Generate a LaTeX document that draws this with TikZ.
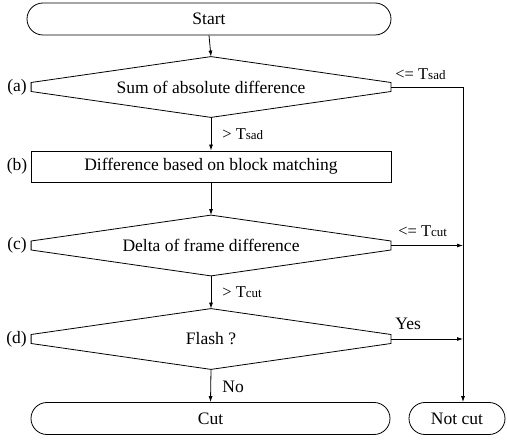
\documentclass[tikz,border=0pt]{standalone}
\usepackage{fontspec}
\setmainfont{Liberation Serif}
\usetikzlibrary{arrows.meta,calc}
\newcommand\thr[2]{{\fontsize{16.5}{18}\selectfont #1T}{\fontsize{13}{15}\selectfont #2}}
\tikzset{
  every node/.style={font=\fontsize{17.5}{20}\selectfont, inner sep=0pt},
  term/.style={draw, rounded corners=16pt, minimum height=32pt},
  proc/.style={draw, minimum height=31pt},
  hexa/.style={minimum height=60pt},
  conn/.style={line width=0.8pt, -{Latex[length=6pt,width=4pt]}},
  lab/.style={anchor=base west},
}
\begin{document}
\begin{tikzpicture}[x=1pt,y=-1pt, line width=0.8pt]
\useasboundingbox (0,0) rectangle (507,441);
% nodes
\node[term, minimum width=364pt] (start) at (209,19) {Start};
\node[hexa, minimum width=359pt] (a) at (211,87) {Sum of absolute difference};
\node[proc, minimum width=360pt] (b) at (211,166.5) {Difference based on block matching};
\node[hexa, minimum width=359pt] (c) at (211,245.5) {Delta of frame difference};
\node[hexa, minimum width=359pt] (d) at (211,339) {Flash ?};
\node[term, minimum width=359pt] (cut) at (210.5,418.5) {Cut};
\node[term, minimum width=96pt] (nc) at (457,418.5) {Not cut};
\coordinate (col) at (463,0);
% hexagon outlines
\foreach \n in {a,c,d}{
  \draw (\n.north) -- ($(\n.east)+(0,-4.5)$) -- ($(\n.east)+(0,4.5)$) -- (\n.south)
        -- ($(\n.west)+(0,4.5)$) -- ($(\n.west)+(0,-4.5)$) -- cycle;
}
% side labels
\node[anchor=east] (la) at ($(a.west)+(-4,0)$) {(a)};
\node[anchor=east] (lb) at ($(b.west)+(-3,0)$) {(b)};
\node[anchor=east] (lc) at ($(c.west)+(-4,0)$) {(c)};
\node[anchor=east] (ld) at ($(d.west)+(-4,0)$) {(d)};
% connectors
\draw[conn] (start.south) -- (a.north);
\draw[conn] (a.south) -- (b.north);
\draw[conn] (b.south) -- (c.north);
\draw[conn] (c.south) -- (d.north);
\draw[conn] (d.south) -- (cut.north);
\draw[conn] (a.east) -| (col |- nc.north);
\draw[conn] (c.east) -- (col |- c.east);
\draw[conn] (d.east) -- (col |- d.east);
% edge labels
\node[lab] (t1) at (395,80) {\thr{<= }{sad}};
\node[lab] (t2) at (222,140) {\thr{> }{sad}};
\node[lab] (t3) at (398,237) {\thr{<= }{cut}};
\node[lab] (t4) at (222,298) {\thr{> }{cut}};
\node[lab] (t5) at (395,330) {Yes};
\node[lab] (t6) at (222,392) {No};
\end{tikzpicture}
\end{document}
